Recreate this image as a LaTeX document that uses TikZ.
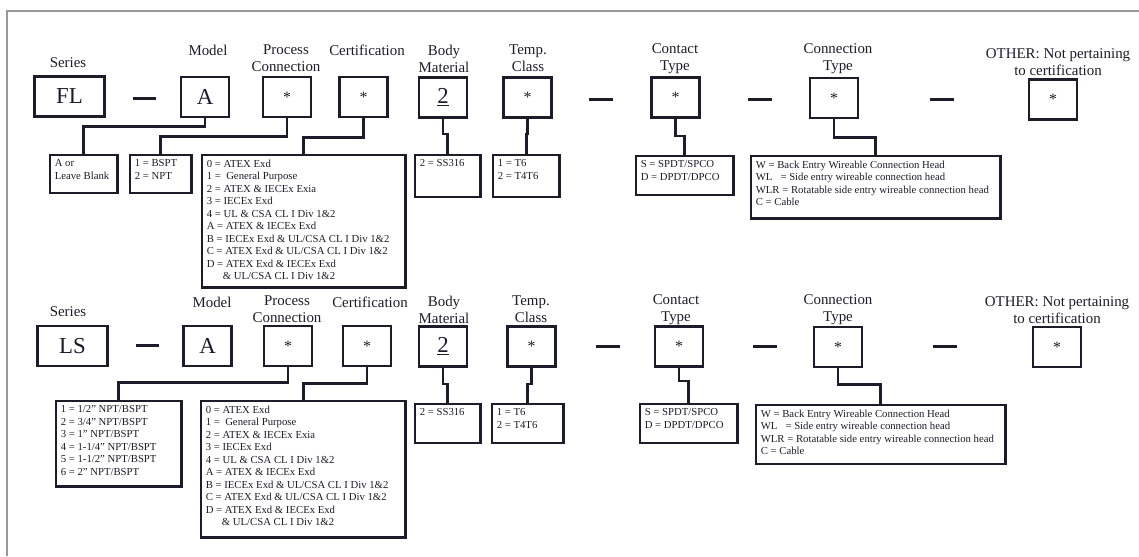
\documentclass[tikz,border=0pt]{standalone}
\usepackage{fontspec}
\setmainfont{Liberation Serif}
\usepackage{tikz}
\usetikzlibrary{positioning}
\definecolor{ink}{RGB}{28,28,42}
\newcommand{\starmark}{{\fontsize{9}{9}\selectfont *}}

\begin{document}
\begin{tikzpicture}[x=0.02cm, y=-0.02cm,
        code/.style={rectangle, draw=ink, line width=1.6pt, text=ink, minimum width=0.96cm, minimum height=0.8cm, inner sep=0pt, font=\fontsize{13}{15}\selectfont},
        wide/.style={code, minimum width=1.4cm},
        head/.style={align=center, inner sep=0pt, text=ink, font=\fontsize{8.5}{9.7}\selectfont},
        opt/.style={rectangle, draw=ink, line width=1.5pt, anchor=north west, inner sep=0.1cm, text=ink, font=\fontsize{6.1}{7.1}\selectfont},
        sep/.style={fill=ink, minimum width=0.48cm, minimum height=1.7pt, inner sep=0pt},
        link/.style={draw=ink, line width=1.6pt}
        ]
        \useasboundingbox (0,0) rectangle (1139,556);
        % frame
        \draw[gray!80, line width=0.6pt] (7,556) -- (7,11) -- (1139,11);

        % Upper row: headers
        \node [head] (hsera) at (68,63) {Series};
        \node [head] (hmoda) at (208,50) {Model};
        \node [head] (hpca) at (286,58.5) {Process\\Connection};
        \node [head] (hcera) at (367,50) {Certification};
        \node [head] (hbodya) at (444,58.5) {Body\\Material};
        \node [head] (htempa) at (528,58.5) {Temp.\\Class};
        \node [head] (hconta) at (675,58.5) {Contact\\Type};
        \node [head] (hconna) at (838,58.5) {Connection\\Type};
        \node [head] (hotha) at (1058,62) {OTHER: Not pertaining\\to certification};

        % Upper row: code boxes
        \node [wide] (fl) at (69.5,96.5) {FL};
        \node [sep] (da1) at (144.5,98) {};
        \node [code] (ma) at (205,97) {A};
        \node [code] (pca) at (287,97) {\starmark};
        \node [code] (cera) at (363.5,97) {\starmark};
        \node [code] (bodya) at (443,97.5) {\underline{2}};
        \node [code] (tempa) at (527.5,97.5) {\starmark};
        \node [sep] (da2) at (601,99) {};
        \node [code] (conta) at (675.5,97.5) {\starmark};
        \node [sep] (da3) at (760,99) {};
        \node [code] (conna) at (834,98) {\starmark};
        \node [sep] (da4) at (942,99) {};
        \node [code] (otha) at (1053,99.5) {\starmark};

        % Upper row: option boxes
        \node [opt] (optsera) at (48.5,153.5) {\parbox[c][0.56cm][t]{1.16cm}{A or\\Leave Blank}};
        \node [opt] (optpca) at (128.5,153.5) {\parbox[c][0.56cm][t]{1.04cm}{1 = BSPT\\2 = NPT}};
        \node [opt] (optcera) at (200.5,153.5) {\parbox[c][2.46cm][t]{3.88cm}{0 = ATEX Exd\\1 = \ General Purpose\\2 = ATEX \& IECEx Exia\\3 = IECEx Exd\\4 = UL \& CSA CL I Div 1\&2\\A = ATEX \& IECEx Exd\\B = IECEx Exd \& UL/CSA CL I Div 1\&2\\C = ATEX Exd \& UL/CSA CL I Div 1\&2\\D = ATEX Exd \& IECEx Exd\\\hspace*{1.5em}\& UL/CSA CL I Div 1\&2}};
        \node [opt] (optbodya) at (413.5,153.5) {\parbox[c][0.64cm][t]{1.12cm}{2 = SS316}};
        \node [opt] (opttempa) at (491.5,153.5) {\parbox[c][0.64cm][t]{1.14cm}{1 = T6\\2 = T4T6}};
        \node [opt] (optconta) at (634.5,154.5) {\parbox[c][0.58cm][t]{1.76cm}{S = SPDT/SPCO\\D = DPDT/DPCO}};
        \node [opt] (optconna) at (749.5,154.5) {\parbox[c][1.06cm][t]{4.8cm}{W = Back Entry Wireable Connection Head\\WL\ \ \ = Side entry wireable connection head\\WLR = Rotatable side entry wireable connection head\\C = Cable}};

        % Upper row: links
        \draw[link] (ma.south) -- ++(0,8) -| (optsera.north);
        \draw[link] (pca.south) -- ++(0,18) -| (optpca.north);
        \draw[link] (cera.south) -- ++(0,19) -| (optcera.north);
        \draw[link] (bodya.south) -- ++(0,15) -| (optbodya.north);
        \draw[link] (tempa.south) -- ++(0,15) -| (opttempa.north);
        \draw[link] (conta.south) -- ++(0,17) -| (optconta.north);
        \draw[link] (conna.south) -- ++(0,18) -| (optconna.north);

        % Lower row: headers
        \node [head] (hserb) at (68,312) {Series};
        \node [head] (hmodb) at (212,302) {Model};
        \node [head] (hpcb) at (287,309.5) {Process\\Connection};
        \node [head] (hcerb) at (370,302) {Certification};
        \node [head] (hbodyb) at (444,309.5) {Body\\Material};
        \node [head] (htempb) at (531,309.5) {Temp.\\Class};
        \node [head] (hcontb) at (676,309.5) {Contact\\Type};
        \node [head] (hconnb) at (838,309.5) {Connection\\Type};
        \node [head] (hothb) at (1057,310) {OTHER: Not pertaining\\to certification};

        % Lower row: code boxes
        \node [wide] (ls) at (72.5,346) {LS};
        \node [sep] (db1) at (147.5,345) {};
        \node [code] (mb) at (207.5,346) {A};
        \node [code] (pcb) at (288,346) {\starmark};
        \node [code] (cerb) at (367,346) {\starmark};
        \node [code] (bodyb) at (443,346.5) {\underline{2}};
        \node [code] (tempb) at (531.5,346.5) {\starmark};
        \node [sep] (db2) at (608,346) {};
        \node [code] (contb) at (679,346.5) {\starmark};
        \node [sep] (db3) at (764.5,346) {};
        \node [code] (connb) at (838,347) {\starmark};
        \node [sep] (db4) at (945,346) {};
        \node [code] (othb) at (1057,347) {\starmark};

        % Lower row: option boxes
        \node [opt] (optpcb) at (54.5,399.5) {\parbox[c][1.52cm][t]{2.32cm}{1 = 1/2" NPT/BSPT\\2 = 3/4" NPT/BSPT\\3 = 1" NPT/BSPT\\4 = 1-1/4" NPT/BSPT\\5 = 1-1/2" NPT/BSPT\\6 = 2" NPT/BSPT}};
        \node [opt] (optcerb) at (199.5,399.5) {\parbox[c][2.54cm][t]{3.9cm}{0 = ATEX Exd\\1 = \ General Purpose\\2 = ATEX \& IECEx Exia\\3 = IECEx Exd\\4 = UL \& CSA CL I Div 1\&2\\A = ATEX \& IECEx Exd\\B = IECEx Exd \& UL/CSA CL I Div 1\&2\\C = ATEX Exd \& UL/CSA CL I Div 1\&2\\D = ATEX Exd \& IECEx Exd\\\hspace*{1.5em}\& UL/CSA CL I Div 1\&2}};
        \node [opt] (optbodyb) at (413.5,402.5) {\parbox[c][0.58cm][t]{1.12cm}{2 = SS316}};
        \node [opt] (opttempb) at (490.5,402.5) {\parbox[c][0.58cm][t]{1.24cm}{1 = T6\\2 = T4T6}};
        \node [opt] (optcontb) at (638.5,402.5) {\parbox[c][0.58cm][t]{1.76cm}{S = SPDT/SPCO\\D = DPDT/DPCO}};
        \node [opt] (optconnb) at (754.5,403.5) {\parbox[c][0.98cm][t]{4.8cm}{W = Back Entry Wireable Connection Head\\WL\ \ \ = Side entry wireable connection head\\WLR = Rotatable side entry wireable connection head\\C = Cable}};

        % Lower row: links
        \draw[link] (pcb.south) -- ++(0,15) -| (optpcb.north);
        \draw[link] (cerb.south) -- ++(0,16) -| (optcerb.north);
        \draw[link] (bodyb.south) -- ++(0,16) -| (optbodyb.north);
        \draw[link] (tempb.south) -- ++(0,16) -| (opttempb.north);
        \draw[link] (contb.south) -- ++(0,13) -| (optcontb.north);
        \draw[link] (connb.south) -- ++(0,16) -| (optconnb.north);

    \end{tikzpicture}
\end{document}
